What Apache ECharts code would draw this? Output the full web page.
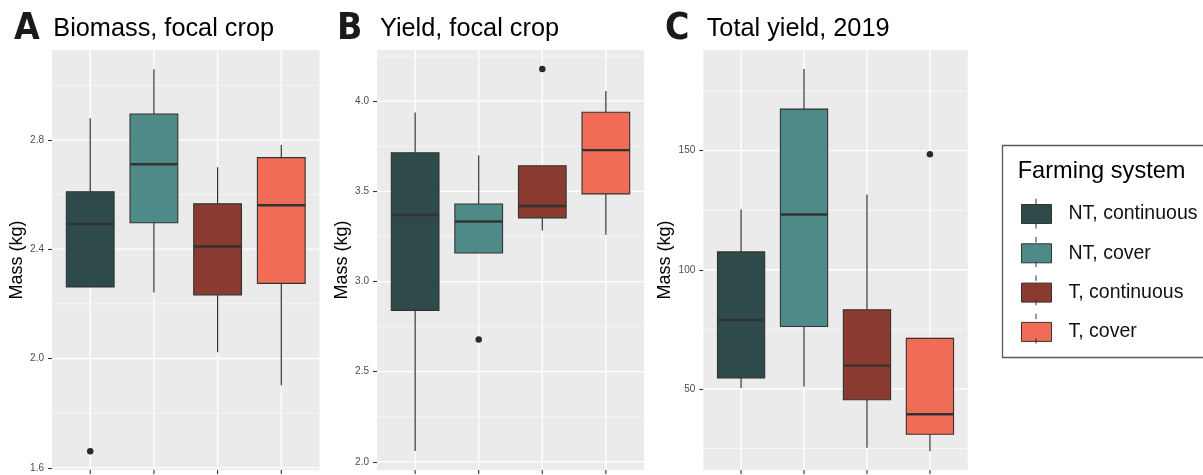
<!DOCTYPE html>
<html><head><meta charset="utf-8">
<script src="https://cdn.jsdelivr.net/npm/echarts@6/dist/echarts.min.js"></script>
<style>html,body{margin:0;padding:0;background:#fff}#c{width:1203px;height:475px}</style>
</head><body><div id="c"></div>
<script>
// ---------- data ----------
const categories = ['NT, continuous', 'NT, cover', 'T, continuous', 'T, cover'];

// [min whisker, Q1, median, Q3, max whisker]
const biomassBoxes = [
  [2.262, 2.262, 2.492, 2.610, 2.879],
  [2.242, 2.497, 2.711, 2.895, 3.059],
  [2.023, 2.233, 2.410, 2.566, 2.700],
  [1.902, 2.275, 2.561, 2.735, 2.781]
];
const biomassOutliers = [[1, 1.661]];
const biomassTicks = [1.6, 2.0, 2.4, 2.8];
const biomassMinor = [1.8, 2.2, 2.6, 3.0];

const yieldBoxes = [
  [2.060, 2.840, 3.369, 3.714, 3.937],
  [3.158, 3.158, 3.333, 3.430, 3.700],
  [3.283, 3.353, 3.419, 3.642, 3.642],
  [3.259, 3.486, 3.729, 3.939, 4.057]
];
const yieldOutliers = [[2, 2.678], [3, 4.179]];
const yieldTicks = [2.0, 2.5, 3.0, 3.5, 4.0];
const yieldMinor = [2.25, 2.75, 3.25, 3.75, 4.25];

const totalBoxes = [
  [50.4, 54.6, 78.9, 107.5, 125.3],
  [51.0, 76.2, 123.2, 167.4, 184.2],
  [25.3, 45.5, 59.8, 83.2, 131.6],
  [23.9, 31.0, 39.4, 71.2, 71.2]
];
const totalOutliers = [[4, 148.5]];
const totalTicks = [50, 100, 150];
const totalMinor = [25, 75, 125, 175];

// ---------- style / layout ----------
const colors = ['#2E4A4A', '#4E8A88', '#8A3A2E', '#F06C56'];
const FONT = '"Liberation Sans", Arial, sans-serif';
const panels = [
  {letter: 'A', title: 'Biomass, focal crop', boxes: biomassBoxes, outliers: biomassOutliers,
   ticks: biomassTicks, minor: biomassMinor, min: 1.592, max: 3.129, dec: 1,
   left: 52, width: 267.5, nameGap: 26, letterX: 14, titleX: 53.3},
  {letter: 'B', title: 'Yield, focal crop', boxes: yieldBoxes, outliers: yieldOutliers,
   ticks: yieldTicks, minor: yieldMinor, min: 1.955, max: 4.284, dec: 1,
   left: 377, width: 267, nameGap: 26, letterX: 337, titleX: 380},
  {letter: 'C', title: 'Total yield, 2019', boxes: totalBoxes, outliers: totalOutliers,
   ticks: totalTicks, minor: totalMinor, min: 16.0, max: 192.2, dec: 0,
   left: 703.3, width: 264.4, nameGap: 29, letterX: 665, titleX: 706.7}
];
const TOP = 50, HEIGHT = 420;

function renderGrid(p) {
  return function (params, api) {
    const cs = params.coordSys;
    const ch = [];
    p.minor.forEach(v => {
      const y = api.coord([1, v])[1];
      ch.push({type: 'line', shape: {x1: cs.x, y1: y, x2: cs.x + cs.width, y2: y},
               style: {stroke: '#ffffff', lineWidth: 0.6}});
    });
    p.ticks.forEach(v => {
      const y = api.coord([1, v])[1];
      ch.push({type: 'line', shape: {x1: cs.x, y1: y, x2: cs.x + cs.width, y2: y},
               style: {stroke: '#ffffff', lineWidth: 1.3}});
    });
    categories.forEach((c, i) => {
      const x = api.coord([i + 1, p.ticks[0]])[0];
      ch.push({type: 'line', shape: {x1: x, y1: cs.y, x2: x, y2: cs.y + cs.height},
               style: {stroke: '#ffffff', lineWidth: 1.3}});
      ch.push({type: 'line', shape: {x1: x, y1: cs.y + cs.height, x2: x, y2: cs.y + cs.height + 4},
               style: {stroke: '#333333', lineWidth: 1.1}});
    });
    return {type: 'group', children: ch};
  };
}

function renderBox(params, api) {
  const x = api.value(0);
  const lo = api.value(1), q1 = api.value(2), md = api.value(3), q3 = api.value(4), hi = api.value(5);
  const hw = api.size([0.75, 0])[0] / 2;
  const pLo = api.coord([x, lo]), pQ1 = api.coord([x, q1]), pMd = api.coord([x, md]),
        pQ3 = api.coord([x, q3]), pHi = api.coord([x, hi]);
  const cx = pMd[0];
  const stroke = '#333333';
  return {type: 'group', children: [
    {type: 'line', shape: {x1: cx, y1: pHi[1], x2: cx, y2: pQ3[1]}, style: {stroke, lineWidth: 1.2}},
    {type: 'line', shape: {x1: cx, y1: pQ1[1], x2: cx, y2: pLo[1]}, style: {stroke, lineWidth: 1.2}},
    {type: 'rect', shape: {x: cx - hw, y: pQ3[1], width: 2 * hw, height: pQ1[1] - pQ3[1]},
     style: {fill: colors[x - 1], stroke, lineWidth: 1.1}},
    {type: 'line', shape: {x1: cx - hw, y1: pMd[1], x2: cx + hw, y2: pMd[1]}, style: {stroke, lineWidth: 2.4}}
  ]};
}

const grid = [], xAxis = [], yAxis = [], series = [], graphic = [];
panels.forEach((p, k) => {
  grid.push({left: p.left, top: TOP, width: p.width, height: HEIGHT, show: true,
             backgroundColor: '#EBEBEB', borderWidth: 0, containLabel: false});
  xAxis.push({gridIndex: k, type: 'value', min: 0.4, max: 4.6,
              axisLine: {show: false}, axisTick: {show: false}, axisLabel: {show: false},
              splitLine: {show: false}});
  yAxis.push({gridIndex: k, type: 'value', min: p.min, max: p.max,
              name: 'Mass (kg)', nameLocation: 'middle', nameRotate: 90, nameGap: p.nameGap,
              nameTextStyle: {fontFamily: FONT, fontSize: 18, color: '#000'},
              axisLine: {show: false},
              axisTick: {show: true, length: 4, customValues: p.ticks, lineStyle: {color: '#333', width: 1.1}},
              axisLabel: {show: true, customValues: p.ticks, margin: 8, fontFamily: FONT, fontSize: 10,
                          color: '#4D4D4D', formatter: v => Number(v).toFixed(p.dec)},
              splitLine: {show: false}, minorSplitLine: {show: false}});
  series.push({type: 'custom', name: 'grid' + k, xAxisIndex: k, yAxisIndex: k, z: 1, silent: true,
               renderItem: renderGrid(p), data: [[1, p.ticks[0]]]});
  series.push({type: 'custom', name: 'box' + k, xAxisIndex: k, yAxisIndex: k, z: 2, silent: true,
               renderItem: renderBox, data: p.boxes.map((b, i) => [i + 1].concat(b))});
  series.push({type: 'scatter', name: 'out' + k, xAxisIndex: k, yAxisIndex: k, z: 3, silent: true,
               symbolSize: 6.5, itemStyle: {color: '#2b2b2b', opacity: 1}, data: p.outliers});
  graphic.push({type: 'text', left: p.letterX, top: 11, scaleX: 0.9,
                style: {text: p.letter, font: 'bold 37px "DejaVu Sans", sans-serif', fill: '#1a1a1a'}});
  graphic.push({type: 'text', x: p.titleX, y: 29,
                style: {text: p.title, font: '25.3px ' + FONT, fill: '#000', verticalAlign: 'middle'}});
});

// legend (dummy series carry the names and colours)
categories.forEach((c, i) => {
  series.push({type: 'scatter', name: c, xAxisIndex: 0, yAxisIndex: 0, data: [],
               itemStyle: {color: colors[i], opacity: 1}});
});
graphic.push({type: 'rect', shape: {x: 1002.5, y: 145.5, width: 260, height: 212},
              style: {fill: 'none', stroke: '#5a5a5a', lineWidth: 1.3}});
graphic.push({type: 'text', x: 1017.7, y: 171.5,
              style: {text: 'Farming system', font: '23.6px ' + FONT, fill: '#000', verticalAlign: 'middle'}});
categories.forEach((c, i) => {
  const cy = 213.7 + i * 38.3;
  graphic.push({type: 'line', z: 100, shape: {x1: 1036, y1: cy - 15, x2: 1036, y2: cy - 9.5}, style: {stroke: '#333', lineWidth: 1}});
  graphic.push({type: 'line', z: 100, shape: {x1: 1036, y1: cy + 9.5, x2: 1036, y2: cy + 15}, style: {stroke: '#333', lineWidth: 1}});
});

const option = {
  animation: false,
  backgroundColor: '#ffffff',
  grid, xAxis, yAxis, series, graphic,
  legend: {
    orient: 'vertical', left: 1021, top: 204, padding: 0, itemWidth: 30, itemHeight: 19, itemGap: 19.3,
    selectedMode: false,
    data: categories.map((c, i) => ({name: c, icon: 'rect',
      itemStyle: {color: colors[i], borderColor: '#333', borderWidth: 1, opacity: 1}})),
    textStyle: {fontFamily: FONT, fontSize: 19.5, color: '#111', lineHeight: 19, padding: [0, 0, 0, 12]}
  }
};
const chart = echarts.init(document.getElementById('c'), null, {renderer: 'canvas'});
chart.setOption(option);
</script></body></html>
